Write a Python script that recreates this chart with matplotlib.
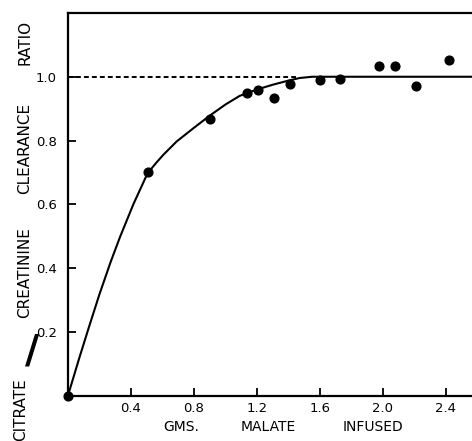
import matplotlib
matplotlib.use("Agg")
import matplotlib.pyplot as plt

# measured points
dose = [0.0, 0.506, 0.90, 1.135, 1.208, 1.306, 1.411, 1.600, 1.727, 1.977, 2.076, 2.210, 2.419]
ratio = [0.0, 0.700, 0.869, 0.949, 0.960, 0.933, 0.977, 0.990, 0.992, 1.033, 1.033, 0.972, 1.054]

# hand-drawn fitted curve
curve_x = [0.0, 0.07, 0.13, 0.20, 0.27, 0.33, 0.415, 0.505, 0.56, 0.605, 0.69, 0.80, 0.90,
           1.00, 1.09, 1.20, 1.30, 1.40, 1.47, 1.55, 1.62, 2.8]
curve_y = [0.0, 0.115, 0.21, 0.318, 0.418, 0.497, 0.60, 0.697, 0.73, 0.755, 0.797, 0.84, 0.878,
           0.913, 0.94, 0.96, 0.975, 0.988, 0.996, 1.0, 1.0, 1.0]

ref_x = [0.0, 1.45]
ref_y = [1.0, 1.0]

xticks = [0.4, 0.8, 1.2, 1.6, 2.0, 2.4]
yticks = [0.2, 0.4, 0.6, 0.8, 1.0]

W, H = 472, 441


def px(x, y):
    return x / W, 1 - y / H


fig = plt.figure(figsize=(W / 100, H / 100), dpi=100)
ax = fig.add_axes([68 / W, (H - 395.5) / H, 441 / W, 382.5 / H])

ax.plot(curve_x, curve_y, color='black', lw=1.5, solid_joinstyle='round')
ax.plot(ref_x, ref_y, color='black', lw=1.4, dashes=(2.5, 1.6))
ax.plot(dose, ratio, 'o', color='black', ms=6.3, clip_on=False, zorder=5)

ax.set_xlim(0, 2.8)
ax.set_ylim(0, 1.2)
ax.set_xticks(xticks)
ax.set_xticklabels([f"{v:.1f}" for v in xticks])
ax.set_yticks(yticks)
ax.set_yticklabels([f"{v:.1f}" for v in yticks])
ax.tick_params(direction='in', length=6, width=1.3, labelsize=9.5, colors='black')
ax.tick_params(axis='y', pad=8)
ax.tick_params(axis='x', pad=5)
for s in ax.spines.values():
    s.set_linewidth(1.6)

# x axis label
fig.text(*px(181, 427), "GMS.", ha='center', va='center', fontsize=10)
fig.text(*px(268, 427), "MALATE", ha='center', va='center', fontsize=10)
fig.text(*px(373, 427), "INFUSED", ha='center', va='center', fontsize=10)

# y axis label
fig.text(*px(21, 441), "CITRATE", rotation=90, ha='center', va='bottom', fontsize=11)
fig.text(*px(32, 352), "/", ha='center', va='center', fontsize=28, fontweight='bold')
fig.text(*px(25, 318), "CREATININE", rotation=90, ha='center', va='bottom', fontsize=11)
fig.text(*px(25, 148), "CLEARANCE", rotation=90, ha='center', va='center', fontsize=11)
fig.text(*px(25, 42), "RATIO", rotation=90, ha='center', va='center', fontsize=11)

fig.savefig("out.png", dpi=100)
